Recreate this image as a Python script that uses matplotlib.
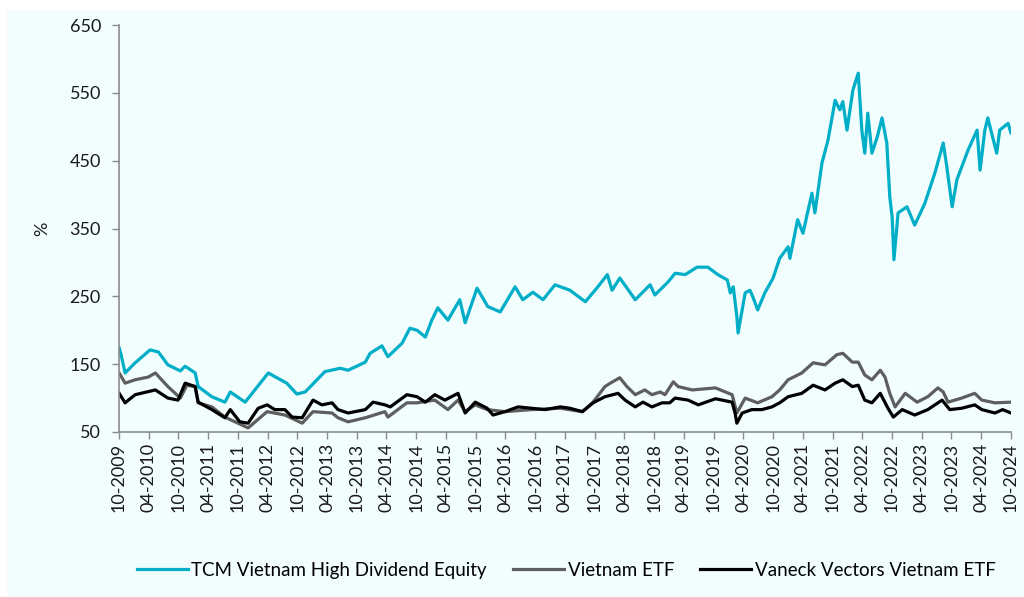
import matplotlib
matplotlib.use("Agg")
import matplotlib.pyplot as plt
import matplotlib.dates as mdates
from matplotlib.patches import Rectangle
import pandas as pd

# dates as decimal years, values in %
tcm_years = [2009.75, 2009.78, 2009.85, 2010.02, 2010.27, 2010.41, 2010.57, 2010.78, 2010.86, 2011.03,
             2011.08, 2011.31, 2011.53, 2011.62, 2011.87, 2012.26, 2012.57, 2012.74, 2012.88, 2013.21,
             2013.47, 2013.60, 2013.89, 2013.97, 2014.17, 2014.27, 2014.51, 2014.64, 2014.76, 2014.90,
             2015.01, 2015.11, 2015.28, 2015.48, 2015.57, 2015.77, 2015.95, 2016.16, 2016.41, 2016.54,
             2016.71, 2016.88, 2017.08, 2017.33, 2017.59, 2017.80, 2017.96, 2018.04, 2018.17, 2018.43,
             2018.68, 2018.76, 2018.98, 2019.10, 2019.27, 2019.47, 2019.65, 2019.82, 2019.98, 2020.03,
             2020.08, 2020.14, 2020.16, 2020.28, 2020.36, 2020.41, 2020.49, 2020.61, 2020.75, 2020.86,
             2021.00, 2021.03, 2021.16, 2021.25, 2021.40, 2021.45, 2021.57, 2021.67, 2021.79, 2021.87,
             2021.92, 2021.99, 2022.09, 2022.18, 2022.24, 2022.29, 2022.34, 2022.41, 2022.50, 2022.58,
             2022.66, 2022.71, 2022.75, 2022.78, 2022.85, 2023.00, 2023.13, 2023.30, 2023.47, 2023.61,
             2023.67, 2023.76, 2023.84, 2024.03, 2024.18, 2024.23, 2024.31, 2024.36, 2024.51, 2024.56,
             2024.70, 2024.75]
tcm_values = [174, 165, 137, 152, 171, 168, 149, 140, 147, 137,
              117, 102, 94, 109, 94, 137, 122, 106, 109, 139,
              144, 141, 153, 166, 177, 161, 181, 203, 200, 190,
              215, 233, 215, 245, 211, 262, 235, 227, 264, 245,
              256, 245, 267, 259, 242, 264, 282, 259, 277, 245,
              267, 252, 271, 284, 282, 293, 293, 282, 274, 255,
              264, 220, 196, 255, 259, 249, 230, 255, 277, 306,
              323, 306, 363, 343, 402, 373, 447, 480, 539, 525,
              537, 495, 554, 579, 495, 461, 520, 461, 485, 513,
              476, 397, 367, 304, 373, 382, 355, 387, 432, 476,
              441, 382, 422, 466, 495, 436, 495, 513, 461, 495,
              505, 491]

etf_years = [2009.75, 2009.85, 2010.02, 2010.24, 2010.36, 2010.57, 2010.78, 2010.89, 2011.03, 2011.08,
             2011.31, 2011.53, 2011.92, 2012.24, 2012.54, 2012.83, 2013.01, 2013.33, 2013.43, 2013.60,
             2013.89, 2014.22, 2014.27, 2014.59, 2014.76, 2015.06, 2015.28, 2015.45, 2015.57, 2015.74,
             2015.94, 2016.24, 2016.69, 2017.17, 2017.54, 2017.72, 2017.92, 2018.01, 2018.17, 2018.29,
             2018.43, 2018.59, 2018.71, 2018.85, 2018.93, 2019.07, 2019.15, 2019.39, 2019.78, 2020.06,
             2020.14, 2020.28, 2020.49, 2020.73, 2020.86, 2021.00, 2021.23, 2021.42, 2021.62, 2021.82,
             2021.92, 2022.08, 2022.18, 2022.29, 2022.41, 2022.55, 2022.63, 2022.71, 2022.80, 2022.97,
             2023.17, 2023.35, 2023.52, 2023.61, 2023.69, 2023.92, 2024.14, 2024.26, 2024.48, 2024.75]
etf_values = [137, 122, 127, 131, 137, 117, 100, 119, 117, 93,
              87, 72, 56, 80, 75, 63, 80, 78, 71, 65,
              71, 80, 72, 93, 93, 97, 83, 97, 80, 90,
              83, 80, 83, 85, 80, 94, 117, 122, 130, 117,
              105, 112, 105, 109, 105, 124, 117, 112, 115, 105,
              78, 100, 93, 102, 112, 127, 137, 152, 149, 164,
              166, 153, 153, 134, 127, 141, 131, 107, 87, 107,
              94, 102, 115, 109, 94, 100, 107, 97, 93, 94]

vaneck_years = [2009.75, 2009.85, 2010.02, 2010.36, 2010.57, 2010.74, 2010.86, 2011.03, 2011.08, 2011.31,
                2011.53, 2011.62, 2011.78, 2011.92, 2012.09, 2012.24, 2012.37, 2012.54, 2012.66, 2012.83,
                2013.01, 2013.16, 2013.33, 2013.43, 2013.60, 2013.89, 2014.02, 2014.22, 2014.31, 2014.59,
                2014.76, 2014.90, 2015.06, 2015.23, 2015.45, 2015.57, 2015.74, 2015.94, 2016.04, 2016.24,
                2016.46, 2016.69, 2016.91, 2017.17, 2017.33, 2017.54, 2017.72, 2017.92, 2018.14, 2018.26,
                2018.43, 2018.56, 2018.71, 2018.88, 2019.01, 2019.10, 2019.32, 2019.49, 2019.78, 2020.06,
                2020.11, 2020.14, 2020.23, 2020.39, 2020.56, 2020.73, 2020.86, 2021.00, 2021.23, 2021.42,
                2021.62, 2021.79, 2021.92, 2022.08, 2022.18, 2022.29, 2022.41, 2022.55, 2022.68, 2022.77,
                2022.92, 2023.13, 2023.35, 2023.59, 2023.72, 2023.92, 2024.14, 2024.26, 2024.48, 2024.61,
                2024.75]
vaneck_values = [107, 93, 105, 112, 100, 97, 122, 117, 94, 83,
                 71, 83, 65, 63, 85, 90, 83, 83, 72, 71,
                 97, 90, 93, 83, 78, 83, 94, 90, 87, 105,
                 102, 94, 105, 97, 107, 78, 94, 85, 75, 80,
                 87, 85, 83, 87, 85, 80, 93, 102, 107, 97,
                 87, 94, 87, 93, 93, 100, 97, 90, 99, 94,
                 78, 63, 78, 83, 83, 87, 93, 102, 107, 119,
                 112, 122, 127, 117, 119, 97, 93, 107, 85, 72,
                 83, 75, 83, 97, 83, 85, 90, 83, 78, 83,
                 78]

series_names = ["TCM Vietnam High Dividend Equity", "Vietnam ETF", "Vaneck Vectors Vietnam ETF"]
series_colors = ["#00AEC7", "#5E5E5E", "#000000"]
y_ticks = [50, 150, 250, 350, 450, 550, 650]


def to_dates(years):
    out = []
    for y in years:
        base = pd.Timestamp(year=int(y), month=1, day=1)
        out.append(base + pd.Timedelta(days=(y - int(y)) * 365.25))
    return out


plt.rcParams['font.family'] = ['Lato', 'DejaVu Sans']

fig = plt.figure(figsize=(10.24, 5.97), dpi=100)
fig.patches.append(Rectangle((7 / 1024, 0), 1, 1 - 10 / 597, transform=fig.transFigure,
                             facecolor="#F2FEFE", edgecolor="none", zorder=-10))
ax = fig.add_axes([119 / 1024, 1 - 432 / 597, 892 / 1024, 407 / 597])
ax.set_facecolor("none")

grey = "#8C8C8C"
for years, vals, name, col in zip([tcm_years, etf_years, vaneck_years],
                                  [tcm_values, etf_values, vaneck_values],
                                  series_names, series_colors):
    ax.plot(to_dates(years), vals, color=col, lw=2.3, label=name)

ax.set_xlim(pd.Timestamp("2009-10-01"), pd.Timestamp("2024-10-01"))
ax.set_ylim(50, 650)
ax.set_yticks(y_ticks)
ax.xaxis.set_major_locator(mdates.MonthLocator(bymonth=[4, 10]))
ax.xaxis.set_major_formatter(mdates.DateFormatter("%m-%Y"))
plt.setp(ax.get_xticklabels(), rotation=90)

for s in ["top", "right"]:
    ax.spines[s].set_visible(False)
for s in ["left", "bottom"]:
    ax.spines[s].set_color(grey)
    ax.spines[s].set_linewidth(1.2)
ax.tick_params(axis="both", colors=grey, length=5, width=1, labelcolor="#1a1a1a", labelsize=13)
ax.tick_params(axis="y", pad=8)
ax.tick_params(axis="x", pad=3)

ax.set_ylabel("%", fontsize=13, color="#1a1a1a")
ax.yaxis.set_label_coords(-0.077, 0.5)

fig.legend(loc="center", bbox_to_anchor=(0.553, 0.045), ncol=3, frameon=False,
           fontsize=13.5, handlelength=2.7, handletextpad=0.2, columnspacing=1.4)

fig.savefig("out.png", dpi=100)
